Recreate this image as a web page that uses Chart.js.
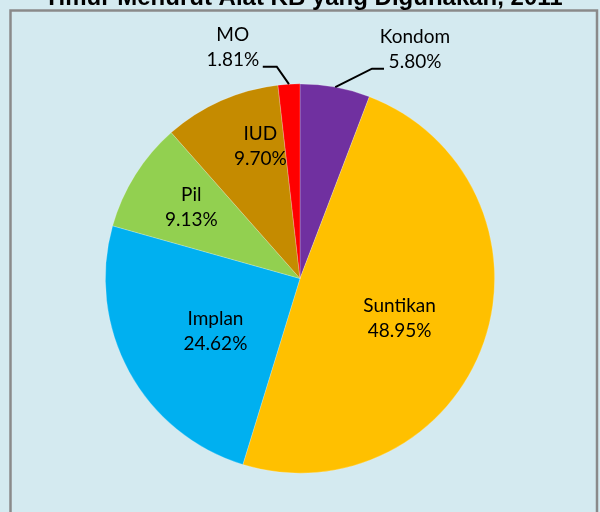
<!DOCTYPE html>
<html>
<head>
<meta charset="utf-8">
<script src="https://cdn.jsdelivr.net/npm/chart.js@4.4.0/dist/chart.umd.min.js"></script>
<style>
  html, body { margin: 0; padding: 0; background: #d4eaf0; }
  canvas { display: block; }
</style>
</head>
<body>
<canvas id="c" width="600" height="512"></canvas>
<script>
// ---- Data ----
const titleText = 'Timur Menurut Alat KB yang Digunakan, 2011';
const categories = ['Kondom', 'Suntikan', 'Implan', 'Pil', 'IUD', 'MO'];
const percentages = [5.80, 48.95, 24.62, 9.13, 9.70, 1.81];

// ---- Styles / layout ----
const sliceColors = ['#7030a0', '#ffc000', '#00b0f0', '#92d050', '#c58b00', '#ff0000'];
// label placement per slice: inside labels use radial fraction + angle nudge (deg);
// outside labels use a leader line to an elbow then a short horizontal run
const labelLayout = [
  { outside: true, elbowR: 1.14, elbowDA: 8.5, run: 12, textDX: 31 },
  { frac: 0.55, dA: 2.5 },
  { frac: 0.51, dA: -3 },
  { frac: 0.67, dA: 1.4 },
  { frac: 0.71, dA: 7.3 },
  { outside: true, elbowR: 1.095, elbowDA: -3, run: -14, textDX: -30 }
];
const BG = '#d4eaf0';
const FONT = '19px Lato, "Open Sans", sans-serif';
const LINE_GAP = 25;

const bgPlugin = {
  id: 'bg',
  beforeDraw(chart) {
    const ctx = chart.ctx;
    ctx.save();
    ctx.fillStyle = BG;
    ctx.fillRect(0, 0, chart.width, chart.height);
    ctx.strokeStyle = '#8a8a8a';
    ctx.lineWidth = 2.5;
    ctx.strokeRect(10.5, 10.5, 586.5, 600);
    ctx.fillStyle = '#000';
    ctx.font = 'bold 24px "Liberation Sans", Arial, sans-serif';
    ctx.textAlign = 'center';
    ctx.textBaseline = 'alphabetic';
    ctx.fillText(titleText, 303.5, 5);
    ctx.restore();
  }
};

const labelPlugin = {
  id: 'labels',
  afterDatasetsDraw(chart) {
    const ctx = chart.ctx;
    const meta = chart.getDatasetMeta(0);
    ctx.save();
    ctx.font = FONT;
    ctx.fillStyle = '#000';
    ctx.textAlign = 'center';
    ctx.textBaseline = 'alphabetic';
    const capHalf = 19 * 0.72 / 2;
    meta.data.forEach((arc, i) => {
      const p = arc.getProps(['x', 'y', 'startAngle', 'endAngle', 'outerRadius'], true);
      const mid = (p.startAngle + p.endAngle) / 2;
      const L = labelLayout[i];
      const lines = [categories[i], percentages[i].toFixed(2) + '%'];
      let cx, cy;
      if (L.outside) {
        const ex = p.x + Math.cos(mid) * p.outerRadius;
        const ey = p.y + Math.sin(mid) * p.outerRadius;
        const a2 = mid + L.elbowDA * Math.PI / 180;
        const bx = p.x + Math.cos(a2) * p.outerRadius * L.elbowR;
        const by = p.y + Math.sin(a2) * p.outerRadius * L.elbowR;
        ctx.strokeStyle = '#000';
        ctx.lineWidth = 2;
        ctx.beginPath();
        ctx.moveTo(ex, ey);
        ctx.lineTo(bx, by);
        ctx.lineTo(bx + L.run, by);
        ctx.stroke();
        cx = bx + L.run + L.textDX;
        cy = by - 20;
      } else {
        const a = mid + L.dA * Math.PI / 180;
        const r = p.outerRadius * L.frac;
        cx = p.x + Math.cos(a) * r;
        cy = p.y + Math.sin(a) * r;
      }
      ctx.fillText(lines[0], cx, cy - LINE_GAP / 2 + capHalf);
      ctx.fillText(lines[1], cx, cy + LINE_GAP / 2 + capHalf);
    });
    ctx.restore();
  }
};

new Chart(document.getElementById('c'), {
  type: 'pie',
  data: {
    labels: categories,
    datasets: [{
      data: percentages,
      backgroundColor: sliceColors,
      borderColor: 'rgba(255,255,255,0.3)',
      borderWidth: 0.75,
      hoverOffset: 0
    }]
  },
  options: {
    responsive: false,
    devicePixelRatio: 1,
    animation: false,
    layout: { padding: { left: 105, right: 105, top: 83, bottom: 38 } },
    plugins: {
      legend: { display: false },
      tooltip: { enabled: false },
      title: { display: false }
    }
  },
  plugins: [bgPlugin, labelPlugin]
});
</script>
</body>
</html>
